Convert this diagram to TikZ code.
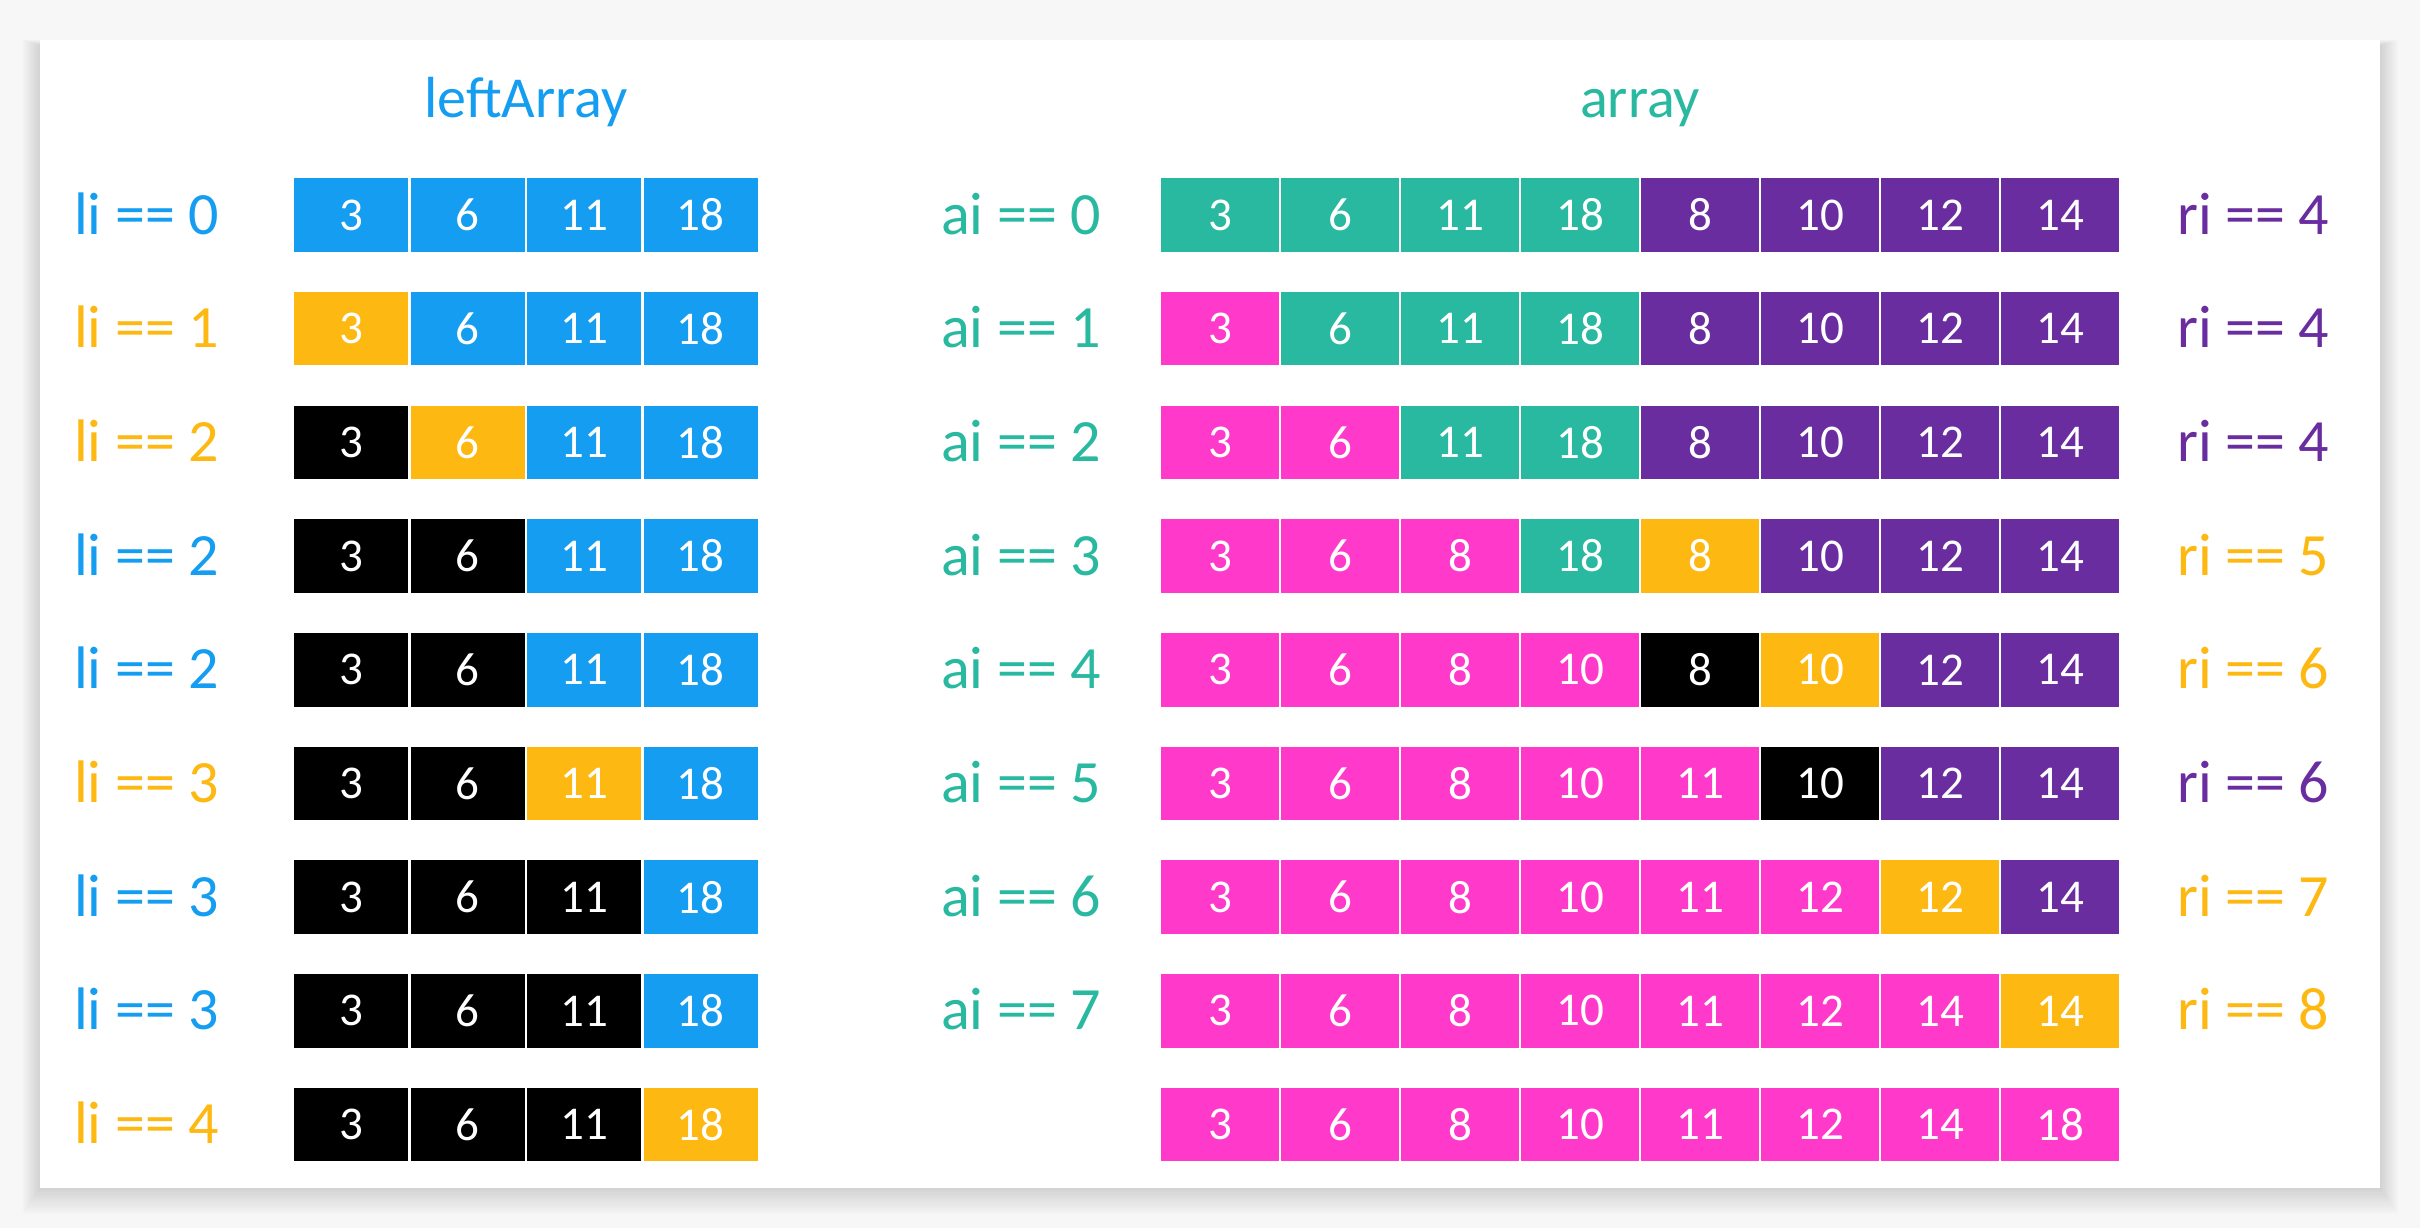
\documentclass[tikz,border=0pt]{standalone}
\usepackage{fontspec}
\setmainfont{Carlito}
\definecolor{cblue}{HTML}{149DF1}
\definecolor{corange}{HTML}{FDB812}
\definecolor{cblack}{HTML}{000000}
\definecolor{cteal}{HTML}{29B9A0}
\definecolor{cpurple}{HTML}{6A2DA0}
\definecolor{cmag}{HTML}{FF3ACB}
\definecolor{bggray}{HTML}{F7F7F7}
\tikzset{
  lcell/.style={rectangle, draw=white, line width=2.5pt, minimum width=116.5pt, minimum height=76pt, inner sep=0pt, text=white, font=\fontsize{47}{47}\selectfont},
  rcell/.style={lcell, minimum width=120pt},
  lbl/.style={anchor=base west, inner sep=0pt, font=\fontsize{60}{60}\selectfont},
  ttl/.style={anchor=base, inner sep=0pt, font=\fontsize{58}{58}\selectfont}
}
\begin{document}
\begin{tikzpicture}[x=1pt,y=-1pt]
\useasboundingbox (0,0) rectangle (2420,1228);
\fill[bggray] (0,0) rectangle (2420,1228);
% soft shadow
\foreach \k in {1,...,12}{
  \fill[black, opacity=0.012] (40-\k*1.5,40-\k*0.5+6) rectangle (2380+\k*1.5,1188+\k*2.2);
}
\fill[white] (40,40) rectangle (2380,1188);
% titles
\node[ttl, text=cblue] (tleft) at (526,118) {leftArray};
\node[ttl, text=cteal] (tright) at (1640,118) {array};
% left array
\foreach \r/\lab/\lc/\cols in {
 0/0/cblue/{cblue/3,cblue/6,cblue/11,cblue/18},
 1/1/corange/{corange/3,cblue/6,cblue/11,cblue/18},
 2/2/corange/{cblack/3,corange/6,cblue/11,cblue/18},
 3/2/cblue/{cblack/3,cblack/6,cblue/11,cblue/18},
 4/2/cblue/{cblack/3,cblack/6,cblue/11,cblue/18},
 5/3/corange/{cblack/3,cblack/6,corange/11,cblue/18},
 6/3/cblue/{cblack/3,cblack/6,cblack/11,cblue/18},
 7/3/cblue/{cblack/3,cblack/6,cblack/11,cblue/18},
 8/4/corange/{cblack/3,cblack/6,cblack/11,corange/18}}{
  \pgfmathsetmacro\yc{215+\r*113.7}
  \node[lbl, text=\lc] (li\r) at (74,\yc+19) {li == \lab};
  \foreach \c/\v [count=\i from 0] in \cols {
    \node[lcell, fill=\c] (L\r-\i) at (293+116.5*\i+58.25,\yc) {\v};
  }
}
% right array
\foreach \r/\al/\rl/\rc/\cols in {
 0/ai == 0/ri == 4/cpurple/{cteal/3,cteal/6,cteal/11,cteal/18,cpurple/8,cpurple/10,cpurple/12,cpurple/14},
 1/ai == 1/ri == 4/cpurple/{cmag/3,cteal/6,cteal/11,cteal/18,cpurple/8,cpurple/10,cpurple/12,cpurple/14},
 2/ai == 2/ri == 4/cpurple/{cmag/3,cmag/6,cteal/11,cteal/18,cpurple/8,cpurple/10,cpurple/12,cpurple/14},
 3/ai == 3/ri == 5/corange/{cmag/3,cmag/6,cmag/8,cteal/18,corange/8,cpurple/10,cpurple/12,cpurple/14},
 4/ai == 4/ri == 6/corange/{cmag/3,cmag/6,cmag/8,cmag/10,cblack/8,corange/10,cpurple/12,cpurple/14},
 5/ai == 5/ri == 6/cpurple/{cmag/3,cmag/6,cmag/8,cmag/10,cmag/11,cblack/10,cpurple/12,cpurple/14},
 6/ai == 6/ri == 7/corange/{cmag/3,cmag/6,cmag/8,cmag/10,cmag/11,cmag/12,corange/12,cpurple/14},
 7/ai == 7/ri == 8/corange/{cmag/3,cmag/6,cmag/8,cmag/10,cmag/11,cmag/12,cmag/14,corange/14},
 8///white/{cmag/3,cmag/6,cmag/8,cmag/10,cmag/11,cmag/12,cmag/14,cmag/18}}{
  \pgfmathsetmacro\yc{215+\r*113.7}
  \node[lbl, text=cteal] (ai\r) at (941,\yc+19) {\al};
  \node[lbl, text=\rc] (ri\r) at (2177,\yc+19) {\rl};
  \foreach \c/\v [count=\i from 0] in \cols {
    \node[rcell, fill=\c] (R\r-\i) at (1160+120*\i+60,\yc) {\v};
  }
}
\end{tikzpicture}
\end{document}
